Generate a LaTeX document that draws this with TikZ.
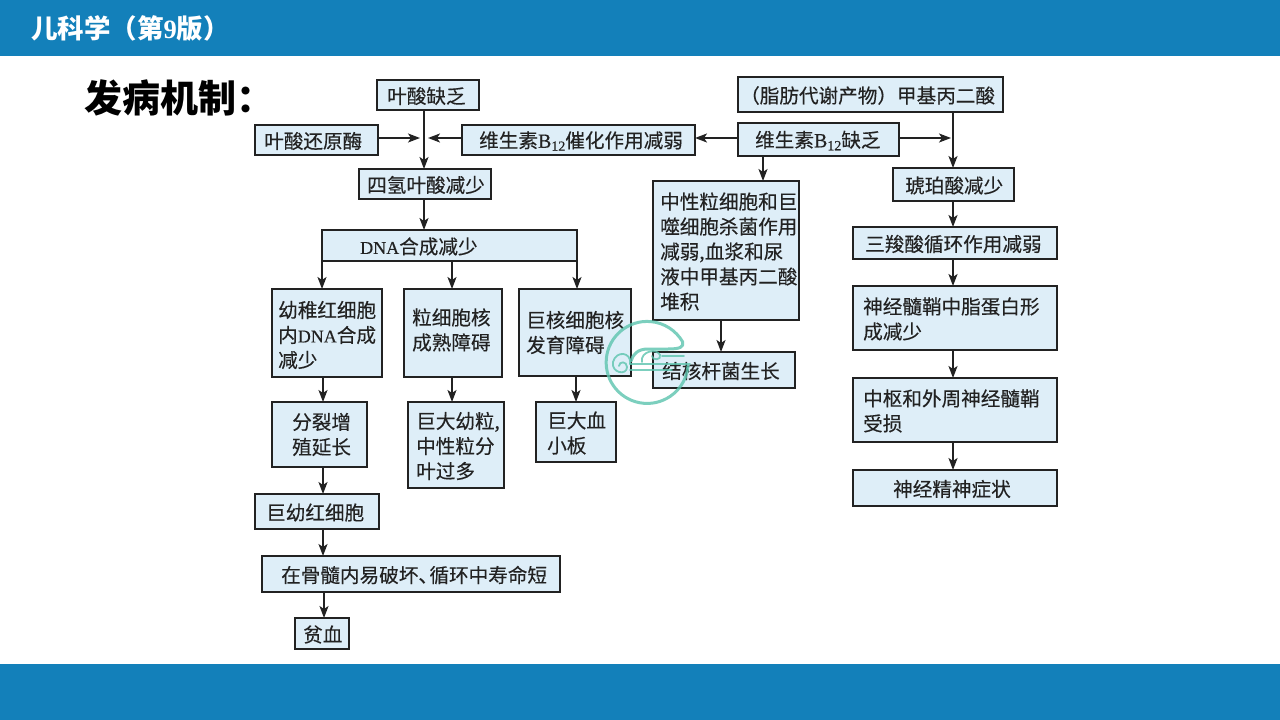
\documentclass[tikz,border=0pt]{standalone}
\usepackage{fontspec}
\usetikzlibrary{arrows.meta,calc}
\setmainfont{Noto Sans CJK SC}
\newfontfamily\cjk[FakeBold=0.25]{Noto Sans CJK SC}
\newfontfamily\lat{Liberation Serif}
\newfontfamily\latb[FakeBold=0.3]{Liberation Serif}
\newcommand{\La}[1]{{\latb\fontsize{18}{25}\selectfont #1}}
\newcommand{\Bt}{{\latb\fontsize{20}{25}\selectfont B\raisebox{-3pt}{\fontsize{14}{14}\selectfont 12}}}
\newcommand{\Cm}{{\latb\fontsize{22}{25}\selectfont ,}}
\newcommand{\Dn}{\makebox[11pt][l]{、}}
\definecolor{hdr}{HTML}{1380BA}
\definecolor{bfill}{HTML}{DEEEF8}
\definecolor{ink}{HTML}{222222}
\definecolor{wm}{HTML}{5CC4AE}
\tikzset{
  x=1pt,y=-1pt,
  bx/.style={draw=ink,line width=1.8pt,fill=bfill,inner sep=0pt,outer sep=0pt},
  tx/.style={text=ink,inner sep=0pt,anchor=west,align=left,font=\cjk\fontsize{19.6}{25}\selectfont},
  arr/.style={draw=ink,line width=1.8pt,-{Stealth[length=12pt,width=9pt,inset=3pt]}},
  lin/.style={draw=ink,line width=1.8pt},
  swirl/.style={draw=wm,line width=1.8pt,opacity=.8,line cap=round},
}
% \B[text shift]{name}{pad}{x1}{x2}{y1}{y2}{text}
\newcommand{\B}[8][1]{%
  \pgfmathsetmacro{\bw}{#5-#4}\pgfmathsetmacro{\bh}{#7-#6}%
  \node[bx,minimum width=\bw pt,minimum height=\bh pt,anchor=north west] (#2) at (#4,#6) {};%
  \node[tx] (#2t) at ($(#2.west)+(#3,#1)$) {#8};%
}
\begin{document}
\begin{tikzpicture}
\useasboundingbox (0,0) rectangle (1280,720);
\fill[white] (0,0) rectangle (1280,720);
\fill[hdr] (0,0) rectangle (1280,56);
\fill[hdr] (0,664) rectangle (1280,720);
\node[anchor=west,inner sep=0pt,text=white,font=\fontsize{26.5}{30}\selectfont\bfseries] (title) at (31,28)
  {儿科学（第{\lat 9}版）};
\node[anchor=west,inner sep=0pt,text=black,font=\fontsize{38}{44}\selectfont\bfseries] (head) at (84,98)
  {发病机制：};

\B{fa}{10}{377}{479}{80}{110}{叶酸缺乏}
\B{red}{9}{255}{378}{125}{155}{叶酸还原酶}
\B{cat}{17}{462}{695}{125}{155}{维生素\Bt 催化作用减弱}
\B{thf}{8}{359}{491}{169}{199}{四氢叶酸减少}
\B{dna}{38}{322}{577}{230}{261}{\La{DNA}合成减少}
\B{mma}{2}{738}{1003}{77}{112}{（脂肪代谢产物）甲基丙二酸}
\B{b12}{17}{738}{899}{123}{156}{维生素\Bt 缺乏}
\B{neu}{7}{653}{799}{181}{320}{中性粒细胞和巨\\噬细胞杀菌作用\\减弱\Cm 血浆和尿\\液中甲基丙二酸\\堆积}
\B{suc}{12}{893}{1014}{168}{201}{琥珀酸减少}
\B{tca}{12}{853}{1057}{227}{259}{三羧酸循环作用减弱}
\B{mye}{10}{853}{1057}{286}{350}{神经髓鞘中脂蛋白形\\成减少}
\B{cns}{10}{853}{1057}{378}{442}{中枢和外周神经髓鞘\\受损}
\B{sym}{40}{853}{1057}{470}{506}{神经精神症状}
\B[2]{ery}{6}{272}{382}{289}{377}{幼稚红细胞\\内\La{DNA}合成\\减少}
\B[-3]{gra}{8}{404}{502}{289}{377}{粒细胞核\\成熟障碍}
\B[0]{meg}{7}{519}{631}{289}{376}{巨核细胞核\\发育障碍}
\B{tb}{9}{653}{795}{352}{388}{结核杆菌生长}
\B{plt}{11}{536}{616}{402}{462}{巨大血\\小板}
\B[0]{div}{20}{272}{367}{402}{467}{分裂增\\殖延长}
\B{gia}{8}{408}{504}{402}{488}{巨大幼粒\Cm\\中性粒分\\叶过多}
\B{meb}{11}{255}{379}{494}{529}{巨幼红细胞}
\B{bm}{19}{262}{560}{556}{592}{在骨髓内易破坏\Dn 循环中寿命短}
\B{ane}{8}{295}{349}{618}{649}{贫血}

\coordinate (jfa) at (424,138);
\coordinate (jr) at (953,138);
\coordinate (xa) at (322,0);
\coordinate (xb) at (452,0);
\coordinate (xc) at (577,0);
\coordinate (xn) at (763,0);
\coordinate (xt) at (721,0);
\coordinate (xe) at (323,0);
\coordinate (xm) at (576,0);
\coordinate (xv) at (324,0);

\draw[lin] (jfa |- fa.south) -- (jfa);
\draw[arr] (jfa) -- (jfa |- thf.north);
\draw[arr,shorten >=4pt] (red.east |- jfa) -- (jfa);
\draw[arr,shorten >=4pt] (cat.west |- jfa) -- (jfa);
\draw[arr] (jfa |- thf.south) -- (jfa |- dna.north);
\draw[arr] (b12.west |- jfa) -- (cat.east |- jfa);
\draw[arr] (xn |- b12.south) -- (xn |- neu.north);
\draw[arr,shorten >=2pt] (b12.east |- jr) -- (jr);
\draw[arr] (jr |- mma.south) -- (jr |- suc.north);
\draw[arr] (jr |- suc.south) -- (jr |- tca.north);
\draw[arr] (jr |- tca.south) -- (jr |- mye.north);
\draw[arr] (jr |- mye.south) -- (jr |- cns.north);
\draw[arr] (jr |- cns.south) -- (jr |- sym.north);
\draw[arr] (xt |- neu.south) -- (xt |- tb.north);
\draw[arr] (xa |- dna.south) -- (xa |- ery.north);
\draw[arr] (xb |- dna.south) -- (xb |- gra.north);
\draw[arr] (xc |- dna.south) -- (xc |- meg.north);
\draw[arr] (xe |- ery.south) -- (xe |- div.north);
\draw[arr] (xb |- gra.south) -- (xb |- gia.north);
\draw[arr] (xm |- meg.south) -- (xm |- plt.north);
\draw[arr] (xe |- div.south) -- (xe |- meb.north);
\draw[arr] (xe |- meb.south) -- (xe |- bm.north);
\draw[arr] (xv |- bm.south) -- (xv |- ane.north);

% watermark
\draw[swirl,line width=3pt,line join=round] (688,366) arc[start angle=5,end angle=330,radius=41]
  .. controls (684,347) and (680,349) .. (668,349) -- (648,349)
  .. controls (638,349) and (633,354) .. (631,361);
\draw[swirl] (630,364) .. controls (632,352) and (616,350) .. (613,362)
  .. controls (611,373) and (627,376) .. (627,367) .. controls (627,361) and (619,361) .. (619,366);
\draw[swirl] (630,364) -- (690,364);
\draw[swirl] (630,370) -- (672,370);
\draw[swirl] (642,362) .. controls (640,351) and (657,348) .. (660,355)
  .. controls (662,360) and (652,361) .. (652,356);
\draw[swirl] (662,356) -- (684,356);
\end{tikzpicture}
\end{document}
